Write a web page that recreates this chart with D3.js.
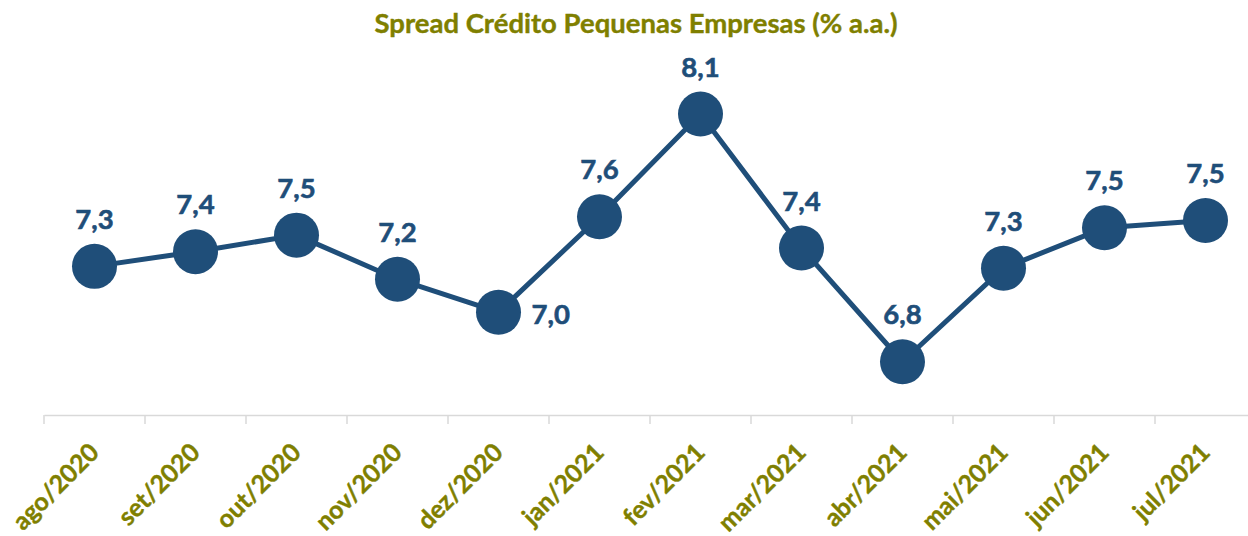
<!DOCTYPE html>
<html>
<head>
<meta charset="utf-8">
<script src="https://cdn.jsdelivr.net/npm/d3@7/dist/d3.min.js"></script>
<style>
  html, body { margin: 0; padding: 0; background: #fff; }
  svg { display: block; }
</style>
</head>
<body>
<svg id="chart" width="1248" height="536"></svg>
<script>
const titleText = "Spread Crédito Pequenas Empresas (% a.a.)";
const categories = ["ago/2020","set/2020","out/2020","nov/2020","dez/2020","jan/2021","fev/2021","mar/2021","abr/2021","mai/2021","jun/2021","jul/2021"];
const values = [7.29, 7.37, 7.46, 7.22, 7.04, 7.56, 8.12, 7.39, 6.77, 7.28, 7.50, 7.54];
const labelBelowRight = ["dez/2020"];

const W = 1248, H = 536;
const blue = "#1F4E79";
const olive = "#7F7F00";
const font = "Lato, 'Open Sans', sans-serif";

const svg = d3.select("#chart");

const x = d3.scaleBand().domain(categories).range([44, 1256]);
const y = d3.scaleLinear().domain([6.48, 8.5]).range([415, 44.3]);

// title
svg.append("text")
  .attr("x", 636).attr("y", 33)
  .attr("text-anchor", "middle")
  .attr("font-family", font).attr("font-weight", 700)
  .attr("font-size", 27.5)
  .attr("fill", olive)
  .attr("stroke", olive).attr("stroke-width", 0.4)
  .text(titleText);

// x axis
const xAxis = d3.axisBottom(x).tickSize(0).tickFormat("");
const gx = svg.append("g").attr("transform", "translate(0,415)").call(xAxis);
gx.select(".domain").attr("stroke", "#D9D9D9").attr("stroke-width", 1.5);
const bounds = categories.map(c => x(c));
gx.selectAll(".btick").data(bounds).join("line")
  .attr("class", "btick")
  .attr("x1", d => d).attr("x2", d => d)
  .attr("y1", 0).attr("y2", 9)
  .attr("stroke", "#D9D9D9").attr("stroke-width", 1.5);

// category labels
svg.append("g").selectAll("text").data(categories).join("text")
  .attr("transform", d => `translate(${x(d) + x.bandwidth()/2 + 6},454) rotate(-45)`)
  .attr("text-anchor", "end")
  .attr("font-family", font).attr("font-weight", 700)
  .attr("font-size", 25)
  .attr("fill", olive)
  .attr("stroke", olive).attr("stroke-width", 0.4)
  .text(d => d);

// line
const line = d3.line()
  .x((d, i) => x(categories[i]) + x.bandwidth()/2)
  .y(d => y(d));
svg.append("path").datum(values)
  .attr("d", line)
  .attr("fill", "none")
  .attr("stroke", blue)
  .attr("stroke-width", 5)
  .attr("stroke-linejoin", "round");

// markers
svg.append("g").selectAll("circle").data(values).join("circle")
  .attr("cx", (d, i) => x(categories[i]) + x.bandwidth()/2)
  .attr("cy", d => y(d))
  .attr("r", 22.5)
  .attr("fill", blue);

// data labels
const fmt = v => d3.format(".1f")(v).replace(".", ",");
svg.append("g").selectAll("text").data(values).join("text")
  .attr("x", (d, i) => {
    const cx = x(categories[i]) + x.bandwidth()/2;
    return labelBelowRight.includes(categories[i]) ? cx + 33 : cx;
  })
  .attr("y", (d, i) => labelBelowRight.includes(categories[i]) ? y(d) + 11.5 : y(d) - 37.5)
  .attr("text-anchor", (d, i) => labelBelowRight.includes(categories[i]) ? "start" : "middle")
  .attr("font-family", font).attr("font-weight", 700)
  .attr("font-size", 27.5)
  .attr("fill", blue)
  .attr("stroke", blue).attr("stroke-width", 0.6)
  .text(d => fmt(d));
</script>
</body>
</html>
